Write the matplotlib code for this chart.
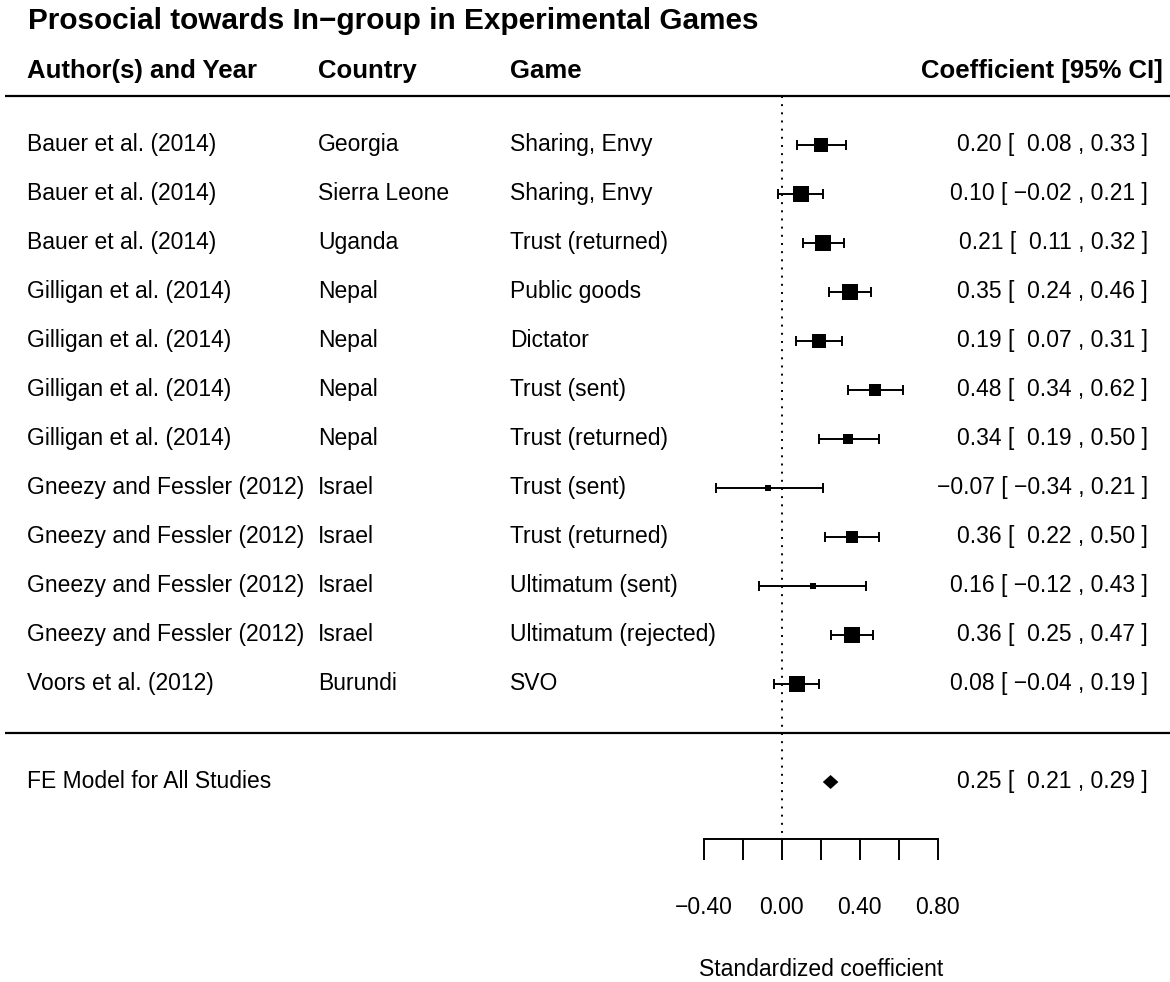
import numpy as np
import matplotlib
matplotlib.use("Agg")
import matplotlib.pyplot as plt

plt.rcParams['font.family'] = ['Liberation Sans', 'DejaVu Sans']

# ---------------- data ----------------
title = "Prosocial towards In\u2212group in Experimental Games"
header_author = "Author(s) and Year"
header_country = "Country"
header_game = "Game"
header_ci = "Coefficient [95% CI]"

authors = ["Bauer et al. (2014)", "Bauer et al. (2014)", "Bauer et al. (2014)",
           "Gilligan et al. (2014)", "Gilligan et al. (2014)", "Gilligan et al. (2014)",
           "Gilligan et al. (2014)", "Gneezy and Fessler (2012)", "Gneezy and Fessler (2012)",
           "Gneezy and Fessler (2012)", "Gneezy and Fessler (2012)", "Voors et al. (2012)"]
countries = ["Georgia", "Sierra Leone", "Uganda", "Nepal", "Nepal", "Nepal", "Nepal",
             "Israel", "Israel", "Israel", "Israel", "Burundi"]
games = ["Sharing, Envy", "Sharing, Envy", "Trust (returned)", "Public goods", "Dictator",
         "Trust (sent)", "Trust (returned)", "Trust (sent)", "Trust (returned)",
         "Ultimatum (sent)", "Ultimatum (rejected)", "SVO"]
estimate = [0.20, 0.10, 0.21, 0.35, 0.19, 0.48, 0.34, -0.07, 0.36, 0.16, 0.36, 0.08]
ci_lower = [0.08, -0.02, 0.11, 0.24, 0.07, 0.34, 0.19, -0.34, 0.22, -0.12, 0.25, -0.04]
ci_upper = [0.33, 0.21, 0.32, 0.46, 0.31, 0.62, 0.50, 0.21, 0.50, 0.43, 0.47, 0.19]

summary_label = "FE Model for All Studies"
summary_est = 0.25
summary_lower = 0.21
summary_upper = 0.29

tick_values = [-0.4, -0.2, 0.0, 0.2, 0.4, 0.6, 0.8]
tick_label_values = [-0.4, 0.0, 0.4, 0.8]
xlabel = "Standardized coefficient"

# ---------------- layout helpers ----------------
W, H = 1170, 982
PX_PER_UNIT = 194.75
X_ZERO_PX = 781.9
ROW_PX = 49.0
ROW1_PX = 684.0


def xd(px):
    return (px - X_ZERO_PX) / PX_PER_UNIT


def yd(py):
    return 1 + (ROW1_PX - py) / ROW_PX


def fmt(v, sign_space=False):
    s = f"{v: .2f}" if sign_space else f"{v:.2f}"
    return s.replace("-", "\u2212")


fig = plt.figure(figsize=(W / 100, H / 100), dpi=100)
ax = fig.add_axes([0, 0, 1, 1])
ax.set_xlim(xd(0), xd(W))
ax.set_ylim(yd(H), yd(0))
ax.axis('off')

FS = 16.5
FS_HEAD = 18.5
FS_TITLE = 21.4
k = len(estimate)
rows = np.arange(k, 0, -1)
base_off = 6.0 / ROW_PX

# title and headers
ax.text(xd(28), yd(28.5), title, fontsize=FS_TITLE, fontweight='bold', ha='left', va='baseline')
ax.text(xd(27), yd(78), header_author, fontsize=FS_HEAD, fontweight='bold', ha='left', va='baseline')
ax.text(xd(318), yd(78), header_country, fontsize=FS_HEAD, fontweight='bold', ha='left', va='baseline')
ax.text(xd(510), yd(78), header_game, fontsize=FS_HEAD, fontweight='bold', ha='left', va='baseline')
ax.text(xd(1163), yd(78), header_ci, fontsize=FS_HEAD, fontweight='bold', ha='right', va='baseline')

# horizontal rules
LW = 1.6
ax.plot([xd(5), xd(W)], [k + 1, k + 1], color='black', lw=LW, solid_capstyle='butt')
ax.plot([xd(5), xd(W)], [0, 0], color='black', lw=LW, solid_capstyle='butt')

# axis position
axis_row = yd(839)
tick_end = yd(860)

# reference line
ax.plot([0, 0], [k + 1, axis_row], color='black', lw=1.4, linestyle=(0, (1, 3.2)))

# study rows
se = (np.array(ci_upper) - np.array(ci_lower)) / (2 * 1.96)
wi = 1 / se
psize = 0.5 + 1.5 * (wi - wi.min()) / (wi.max() - wi.min())
side_px = 1.5 + 7.7 * psize
cap = 5.0 / ROW_PX

for i in range(k):
    r = rows[i]
    ax.text(xd(27), r - base_off, authors[i], fontsize=FS, ha='left', va='baseline')
    ax.text(xd(318), r - base_off, countries[i], fontsize=FS, ha='left', va='baseline')
    ax.text(xd(510), r - base_off, games[i], fontsize=FS, ha='left', va='baseline')
    ax.plot([ci_lower[i], ci_upper[i]], [r, r], color='black', lw=1.4, solid_capstyle='butt')
    ax.plot([ci_lower[i], ci_lower[i]], [r - cap, r + cap], color='black', lw=1.4, solid_capstyle='butt')
    ax.plot([ci_upper[i], ci_upper[i]], [r - cap, r + cap], color='black', lw=1.4, solid_capstyle='butt')
    ax.plot([estimate[i]], [r], marker='s', color='black', markersize=side_px[i] * 0.72, mew=0,
            linestyle='none')
    lab = f"{fmt(estimate[i])} [ {fmt(ci_lower[i], True)} , {fmt(ci_upper[i])} ]"
    ax.text(xd(1148), r - base_off, lab, fontsize=FS, ha='right', va='baseline')

# summary
srow = -1
dh = 7.0 / ROW_PX
ax.fill([summary_lower, summary_est, summary_upper, summary_est],
        [srow, srow + dh, srow, srow - dh], color='black', lw=0)
ax.text(xd(27), srow - base_off, summary_label, fontsize=FS, ha='left', va='baseline')
slab = f"{fmt(summary_est)} [ {fmt(summary_lower, True)} , {fmt(summary_upper)} ]"
ax.text(xd(1148), srow - base_off, slab, fontsize=FS, ha='right', va='baseline')

# x axis
ax.plot([tick_values[0], tick_values[-1]], [axis_row, axis_row], color='black', lw=1.4,
        solid_capstyle='projecting')
for t in tick_values:
    ax.plot([t, t], [axis_row, tick_end], color='black', lw=1.4, solid_capstyle='butt')
for t in tick_label_values:
    ax.text(t, yd(914), fmt(t), fontsize=FS, ha='center', va='baseline')
ax.text((tick_values[0] + tick_values[-1]) / 2, yd(976), xlabel, fontsize=FS,
        ha='center', va='baseline')

fig.savefig("out.png", dpi=100)
